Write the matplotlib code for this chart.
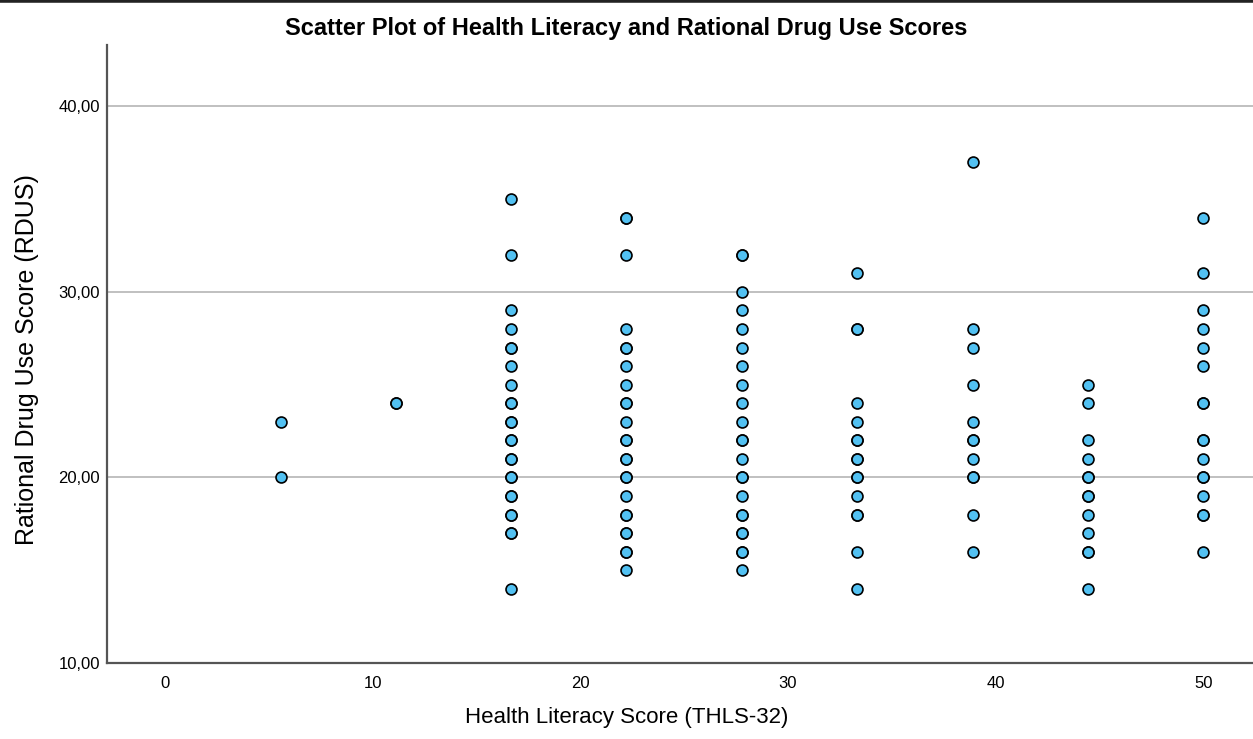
import matplotlib
matplotlib.use("Agg")
import matplotlib.pyplot as plt
from matplotlib.lines import Line2D
from matplotlib.ticker import FuncFormatter

# health literacy levels (THLS-32 scores come in steps of 50/9)
hl_levels = [5.56, 11.11, 16.67, 22.22, 27.78, 33.33, 38.89, 44.44, 50.0]

# RDUS scores observed at each level (repeats = overlapping points)
rdus_5 = [23, 20]
rdus_11 = [24, 24]
rdus_17 = [35, 32, 29, 28, 27, 27, 26, 25, 24, 24, 23, 23, 22, 22, 21, 21,
           20, 20, 19, 19, 18, 18, 17, 17, 14]
rdus_22 = [34, 34, 32, 28, 27, 27, 26, 25, 24, 24, 23, 22, 22, 21, 21,
           20, 20, 19, 18, 18, 17, 17, 16, 16, 15]
rdus_28 = [32, 32, 30, 29, 28, 27, 26, 25, 24, 23, 22, 22, 21, 20, 20,
           19, 18, 18, 17, 17, 16, 16, 15]
rdus_33 = [31, 28, 28, 24, 23, 22, 22, 21, 21, 20, 20, 19, 18, 18, 16, 14]
rdus_39 = [37, 28, 27, 25, 23, 22, 22, 21, 20, 20, 18, 16]
rdus_44 = [25, 24, 22, 21, 20, 20, 19, 19, 18, 17, 16, 16, 14]
rdus_50 = [34, 31, 29, 28, 27, 26, 24, 24, 22, 22, 21, 20, 20, 19, 18, 18, 16]

rdus_by_level = [rdus_5, rdus_11, rdus_17, rdus_22, rdus_28,
                 rdus_33, rdus_39, rdus_44, rdus_50]

x_ticks = [0, 10, 20, 30, 40, 50]
y_ticks = [10, 20, 30, 40]

plt.rcParams["font.family"] = ["Liberation Sans", "DejaVu Sans"]

xs, ys = [], []
for lvl, vals in zip(hl_levels, rdus_by_level):
    xs += [lvl] * len(vals)
    ys += vals

fig = plt.figure(figsize=(12.53, 7.39), dpi=100)
ax = fig.add_axes([107 / 1253, 1 - 663 / 739, 1 - 107 / 1253, (663 - 45) / 739])

for yv in y_ticks[1:]:
    ax.axhline(yv, color="#b5b5b5", linewidth=1.2, zorder=1)

ax.scatter(xs, ys, s=62, color="#52c1f2", edgecolor="black", linewidth=1.2, zorder=3)

ax.set_xlim(-2.8, 52.4)
ax.set_ylim(10, 43.3)
ax.set_xticks(x_ticks)
ax.set_yticks(y_ticks)
ax.yaxis.set_major_formatter(FuncFormatter(lambda v, p: f"{v:.2f}".replace(".", ",")))
ax.tick_params(length=0, labelsize=12, colors="black")
ax.tick_params(axis="x", pad=9)
ax.tick_params(axis="y", pad=5)

for side in ["top", "right"]:
    ax.spines[side].set_visible(False)
for side in ["left", "bottom"]:
    ax.spines[side].set_color("#555555")
    ax.spines[side].set_linewidth(1.6)

fig.text(27 / 1253, 1 - 360 / 739, "Rational Drug Use Score (RDUS)", fontsize=18,
         rotation=90, ha="center", va="center")
fig.text(0.5, 1 - 718 / 739, "Health Literacy Score (THLS-32)", fontsize=16,
         ha="center", va="center")
fig.text(0.5, 1 - 28 / 739, "Scatter Plot of Health Literacy and Rational Drug Use Scores",
         fontsize=17, ha="center", va="center", weight="bold")

fig.add_artist(Line2D([0, 1], [1, 1], color="#222222", linewidth=4, transform=fig.transFigure))

fig.savefig("out.png", dpi=100)
